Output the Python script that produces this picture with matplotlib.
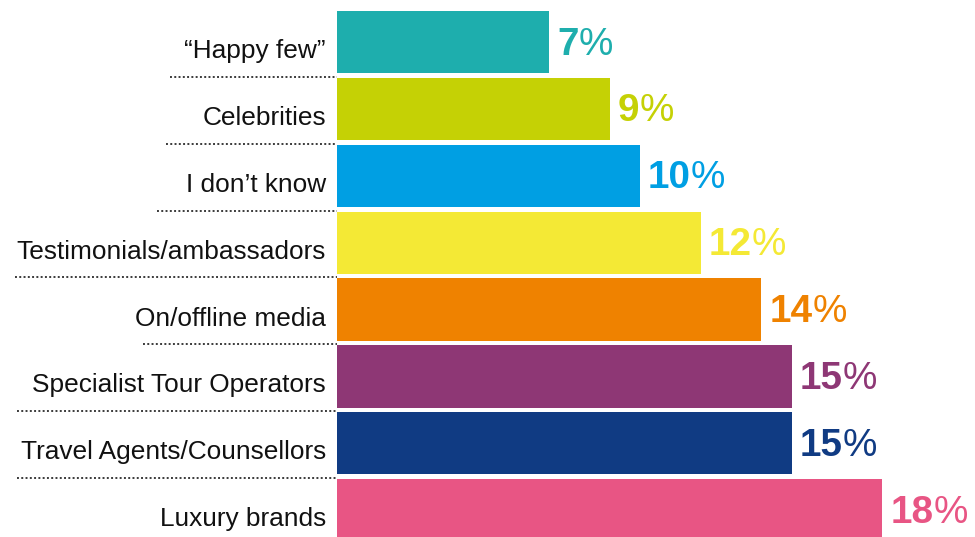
import matplotlib
matplotlib.use("Agg")
import matplotlib.pyplot as plt
from matplotlib.transforms import offset_copy, blended_transform_factory
from matplotlib.lines import Line2D

# ---- data ----
categories = ["\u201cHappy few\u201d", "Celebrities", "I don\u2019t know",
              "Testimonials/ambassadors", "On/offline media",
              "Specialist Tour Operators", "Travel Agents/Counsellors",
              "Luxury brands"]
values = [7, 9, 10, 12, 14, 15, 15, 18]
colors = ["#1EAEAD", "#C5D105", "#009FE3", "#F4E935", "#EF8200",
          "#8E3775", "#103B83", "#E85584"]

# ---- layout (pixels) ----
W, H = 975, 537
bar_left_px = 337
px_per_unit = 30.3
first_center_px = 42.1
row_px = 66.86
bar_h_px = 62.2
dot_start_px = [170, 166, 157, 15, 143, 17, 17]

plt.rcParams["font.family"] = ["Liberation Sans", "DejaVu Sans"]

fig = plt.figure(figsize=(W / 100, H / 100), dpi=100)
ax = fig.add_axes([bar_left_px / W, 0, (W - bar_left_px) / W, 1])
ax.set_xlim(0, (W - bar_left_px) / px_per_unit)
ytop = (0 - first_center_px) / row_px
ybot = (H - first_center_px) / row_px
ax.set_ylim(ybot, ytop)
ax.axis("off")

ypos = list(range(len(categories)))
ax.barh(ypos, values, height=bar_h_px / row_px, color=colors, left=0)

for i, (cat, v, c) in enumerate(zip(categories, values, colors)):
    # category label
    tr = offset_copy(ax.transData, fig=fig, x=-11, y=-16, units="dots")
    ax.text(0, i, cat, transform=tr, ha="right", va="baseline",
            fontsize=18.9, color="#111111", clip_on=False)
    # value label: bold number + regular %
    tr2 = offset_copy(ax.transData, fig=fig, x=8, y=-12.5, units="dots")
    t = ax.text(v, i, f"{v}", transform=tr2, ha="left", va="baseline",
                fontsize=27.8, fontweight="bold", color=c, clip_on=False)
    ax.annotate("%", xy=(1, 0), xycoords=t, ha="left", va="bottom",
                fontsize=27.8, fontweight="normal", color=c,
                annotation_clip=False)

# dotted separators
btr = blended_transform_factory(fig.transFigure, ax.transData)
for i, xs in enumerate(dot_start_px):
    yy = i + 0.5 + 0.02
    ln = Line2D([xs / W, bar_left_px / W], [yy, yy], transform=btr,
                color="#3a3a3a", lw=1.4, linestyle=(0, (1, 1.2)),
                dash_capstyle="butt")
    fig.add_artist(ln)

fig.savefig("out.png", dpi=100)
